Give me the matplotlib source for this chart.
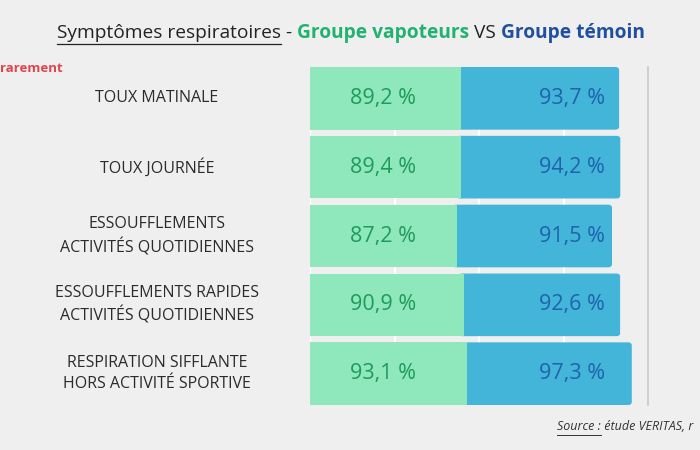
import matplotlib.pyplot as plt
from matplotlib.patches import FancyBboxPatch

plt.rcParams['font.family'] = ['Open Sans', 'DejaVu Sans']

# data
categories = ['TOUX MATINALE', 'TOUX JOURNÉE',
              'ESSOUFFLEMENTS\nACTIVITÉS QUOTIDIENNES',
              'ESSOUFFLEMENTS RAPIDES\nACTIVITÉS QUOTIDIENNES',
              'RESPIRATION SIFFLANTE\nHORS ACTIVITÉ SPORTIVE']
vapoteurs = [89.2, 89.4, 87.2, 90.9, 93.1]
temoin = [93.7, 94.2, 91.5, 92.6, 97.3]

bg = '#efefef'
green_bar = '#8ee8bb'
blue_bar = '#42b5d8'
green_txt = '#1e9b5c'
blue_txt = '#1f63ae'
bar_h = 0.91

fig = plt.figure(figsize=(7, 4.5), dpi=100, facecolor=bg)
ax = fig.add_axes([310 / 700, 1 - 405 / 450, 338 / 700, 338 / 450])
ax.set_facecolor(bg)
ax.set_xlim(0, 200)
ax.set_ylim(4 + bar_h / 2, -bar_h / 2)

y = list(range(len(categories)))
ax.barh(y, vapoteurs, height=bar_h, color=green_bar, zorder=3)

# blue part with rounded right end (left end hidden under the green bar)
for i in y:
    p = FancyBboxPatch((vapoteurs[i] - 3, i - bar_h / 2), temoin[i] + 3, bar_h,
                       boxstyle='round,pad=0,rounding_size=2.2',
                       mutation_aspect=0.02, fc=blue_bar, ec='none', zorder=2)
    ax.add_patch(p)

# white grid between bars
ax.set_xticks([0, 50, 100, 150])
ax.set_xticklabels([])
ax.set_yticks([])
ax.tick_params(length=0)
ax.xaxis.grid(True, color='white', lw=1.6)
ax.set_axisbelow(True)
for s in ['top', 'bottom', 'left']:
    ax.spines[s].set_visible(False)
ax.spines['right'].set_color('#c9c9c9')
ax.spines['right'].set_linewidth(1.2)

# value labels, at fixed columns
for i in y:
    ax.text(43.2, i, f'{vapoteurs[i]:.1f} %'.replace('.', ','),
            ha='center', va='center', fontsize=15.5, color=green_txt, zorder=4)
    ax.text(174.6, i, f'{temoin[i]:.1f} %'.replace('.', ','),
            ha='right', va='center', fontsize=15.5, color=blue_txt, zorder=4)

# category labels
for i, lab in enumerate(categories):
    ax.text((157 - 310) / 338, i, lab, transform=ax.get_yaxis_transform(),
            ha='center', va='center', fontsize=11.5, color='#2b2b2b',
            linespacing=1.45)

# title made of several pieces
renderer = fig.canvas.get_renderer()
pieces = [('Symptômes respiratoires', 'normal', '#222222'),
          (' - ', 'normal', '#222222'),
          ('Groupe vapoteurs', 'bold', '#22b26f'),
          (' VS ', 'normal', '#222222'),
          ('Groupe témoin', 'bold', '#1f4f9e')]
x = 57 / 700
for k, (txt, w, c) in enumerate(pieces):
    t = fig.text(x, 1 - 33 / 450, txt, fontsize=13.8, fontweight=w, color=c,
                 va='center', ha='left')
    bb = t.get_window_extent(renderer)
    if k == 0:
        fig.add_artist(plt.Line2D([bb.x0 / 700, bb.x1 / 700],
                                  [1 - 44 / 450, 1 - 44 / 450],
                                  color='#222222', lw=0.9))
    x = bb.x1 / 700

fig.text(0, 1 - 69 / 450, 'rarement', fontsize=9.5, fontweight='bold',
         color='#e0444e', va='center', ha='left')

# source
t = fig.text(557 / 700, 1 - 427 / 450, 'Source :', fontsize=9, style='italic',
             color='#333333', va='center', ha='left')
bb = t.get_window_extent(renderer)
fig.add_artist(plt.Line2D([bb.x0 / 700, bb.x1 / 700], [1 - 435 / 450, 1 - 435 / 450],
                          color='#333333', lw=0.7))
fig.text(bb.x1 / 700, 1 - 427 / 450, ' étude VERITAS, r', fontsize=9, style='italic',
         color='#333333', va='center', ha='left')

fig.savefig('out.png', dpi=100, facecolor=bg)
